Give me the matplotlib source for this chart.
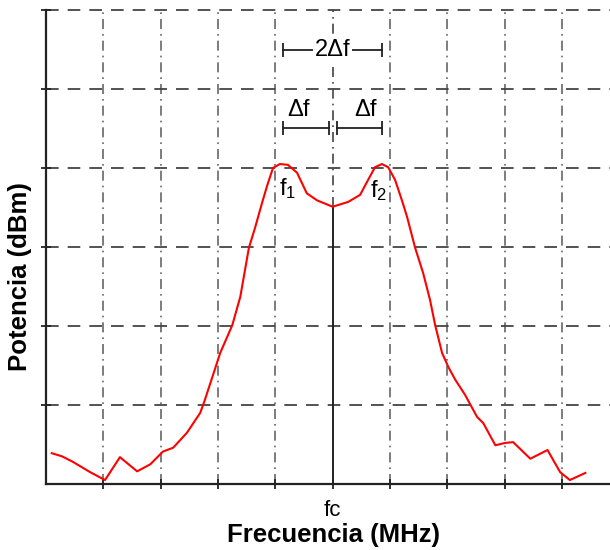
import matplotlib.pyplot as plt
import numpy as np

plt.rcParams['font.family'] = ['Liberation Sans', 'DejaVu Sans']

# spectrum trace (x in grid divisions, fc = 5; y in grid divisions)
freq = [0.10, 0.28, 0.47, 0.77, 1.03, 1.29, 1.59, 1.82, 2.04, 2.22, 2.46, 2.69,
        2.77, 3.04, 3.25, 3.39, 3.54, 3.65, 3.77, 3.86, 3.96, 4.08, 4.22, 4.38,
        4.55, 4.73, 5.00, 5.27, 5.48, 5.62, 5.74, 5.86, 5.97, 6.09, 6.21, 6.30,
        6.44, 6.58, 6.70, 6.79, 6.91, 7.02, 7.14, 7.31, 7.52, 7.63, 7.84, 8.01,
        8.15, 8.45, 8.75, 8.97, 9.14, 9.41]
power = [0.39, 0.35, 0.28, 0.15, 0.05, 0.34, 0.16, 0.25, 0.41, 0.46, 0.65, 0.90,
         1.06, 1.66, 2.01, 2.37, 2.99, 3.25, 3.56, 3.78, 4.00, 4.05, 4.04, 3.94,
         3.68, 3.59, 3.51, 3.57, 3.66, 3.85, 4.01, 4.05, 4.01, 3.85, 3.59, 3.38,
         2.99, 2.67, 2.33, 2.01, 1.66, 1.48, 1.32, 1.13, 0.85, 0.77, 0.49, 0.52,
         0.53, 0.32, 0.43, 0.15, 0.05, 0.14]

fc = 5.0
f1, f2 = 4.13, 5.86
xticks = [1, 2, 3, 4, 5, 6, 7, 8, 9]
xticklabels = ['', '', '', '', 'fc', '', '', '', '']
yticks = [1, 2, 3, 4, 5, 6]

fig = plt.figure(figsize=(6.1, 5.5), dpi=100)
ax = fig.add_axes([46 / 610, 66 / 550, 1 - 46 / 610, (484 - 10) / 550])
ax.set_xlim(0, 9.84)
ax.set_ylim(0, 6)

# grid
for x in xticks:
    if x == fc:
        continue
    ax.axvline(x, color='#666666', lw=1.2, ls=(0, (6, 3, 1, 3)), zorder=1)
ax.axvline(fc, ymin=3.51 / 6, color='#444444', lw=1.2, ls=(0, (6, 3, 1, 3)), zorder=1)
for y in yticks:
    ax.axhline(y, color='#444444', lw=1.3, ls=(0, (7, 5)), zorder=1, clip_on=False)

# centre line up to trace
ax.plot([fc, fc], [0, 3.51], color='#222222', lw=1.4, zorder=2)

ax.plot(freq, power, color='red', lw=1.5, zorder=3)

# delta f annotations
dark = '#222222'
ax.plot([f1, f2], [5.5, 5.5], color=dark, lw=1.3, zorder=4)
ax.plot([f1, f2], [5.5, 5.5], ls='none', marker='|', ms=10, mew=1.3, color=dark)
ax.text(fc, 5.5, '2Δf', ha='center', va='center', fontsize=17,
        bbox=dict(facecolor='white', edgecolor='none', pad=1), zorder=5)
ax.plot([f1, fc - 0.07], [4.51, 4.51], color=dark, lw=1.3, zorder=4)
ax.plot([fc + 0.07, f2], [4.51, 4.51], color=dark, lw=1.3, zorder=4)
ax.plot([f1, fc - 0.07, fc + 0.07, f2], [4.51] * 4, ls='none', marker='|',
        ms=10, mew=1.3, color=dark)
ax.text(4.40, 4.74, 'Δf', ha='center', va='center', fontsize=17)
ax.text(5.58, 4.74, 'Δf', ha='center', va='center', fontsize=17)
ax.text(4.22, 3.74, '$\\mathregular{f_1}$', ha='center', va='center', fontsize=17)
ax.text(5.80, 3.72, '$\\mathregular{f_2}$', ha='center', va='center', fontsize=17)

ax.spines['top'].set_visible(False)
ax.spines['right'].set_visible(False)
for side in ['left', 'bottom']:
    ax.spines[side].set_linewidth(1.6)
    ax.spines[side].set_color(dark)

ax.set_xticks(xticks)
ax.set_xticklabels(xticklabels, fontsize=16)
ax.set_yticks(yticks)
ax.set_yticklabels([])
ax.tick_params(axis='both', direction='inout', length=7, width=1.3, color=dark)
ax.tick_params(axis='x', pad=8)

ax.set_xlabel('Frecuencia (MHz)', fontsize=18.5, fontweight='bold')
ax.xaxis.set_label_coords(0.509, -0.082)
ax.set_ylabel('Potencia (dBm)', fontsize=18.5, fontweight='bold')
ax.yaxis.set_label_coords(-0.025, 0.437)

fig.savefig('out.png', dpi=100)
